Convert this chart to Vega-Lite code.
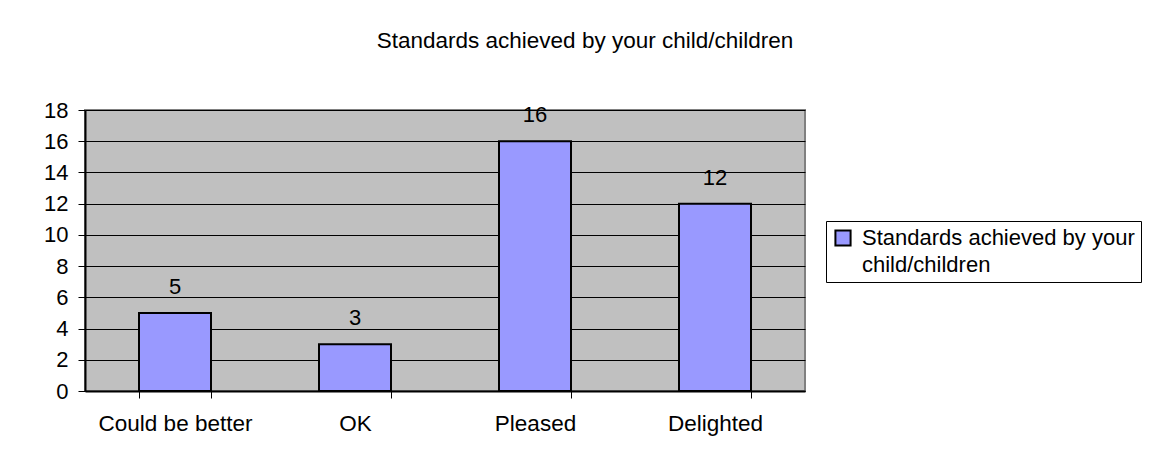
{
  "$schema": "https://vega.github.io/schema/vega-lite/v6.json",
  "width": 720,
  "height": 281,
  "autosize": "none",
  "padding": {"left": 85, "top": 110, "right": 350, "bottom": 81},
  "background": "white",
  "title": {
    "text": "Standards achieved by your child/children",
    "anchor": "middle",
    "frame": "group",
    "dx": 140,
    "offset": 47,
    "font": "Liberation Sans",
    "fontSize": 22.5,
    "fontWeight": "normal",
    "color": "black"
  },
  "data": {
    "values": [
      {"category": "Could be better", "value": 5, "series": "Standards achieved by your child/children"},
      {"category": "OK", "value": 3, "series": "Standards achieved by your child/children"},
      {"category": "Pleased", "value": 16, "series": "Standards achieved by your child/children"},
      {"category": "Delighted", "value": 12, "series": "Standards achieved by your child/children"}
    ]
  },
  "encoding": {
    "x": {
      "field": "category",
      "type": "nominal",
      "sort": null,
      "scale": {"paddingInner": 0.6, "paddingOuter": 0.3},
      "axis": {
        "title": null,
        "labelAngle": 0,
        "tickBand": "extent",
        "domainColor": "black",
        "domainWidth": 2,
        "tickColor": "black",
        "tickSize": 7,
        "labelFontSize": 22.5,
        "labelFont": "Liberation Sans",
        "labelColor": "black",
        "labelPadding": 14
      }
    },
    "y": {
      "field": "value",
      "type": "quantitative",
      "scale": {"domain": [0, 18], "nice": false},
      "axis": {
        "title": null,
        "values": [0, 2, 4, 6, 8, 10, 12, 14, 16, 18],
        "grid": true,
        "gridColor": "black",
        "gridWidth": 1,
        "domainColor": "black",
        "domainWidth": 2,
        "tickColor": "black",
        "tickSize": 7,
        "labelFontSize": 22,
        "labelFont": "Liberation Sans",
        "labelColor": "black",
        "labelPadding": 10
      }
    }
  },
  "layer": [
    {
      "mark": {"type": "bar", "stroke": "black", "strokeWidth": 2},
      "encoding": {
        "color": {
          "field": "series",
          "type": "nominal",
          "scale": {"range": ["#9999FF"]},
          "legend": {
            "title": null,
            "orient": "none",
            "legendX": 741,
            "legendY": 111,
            "strokeColor": "black",
            "fillColor": "white",
            "padding": 6,
            "symbolType": "square",
            "symbolSize": 230,
            "symbolStrokeColor": "black",
            "symbolStrokeWidth": 2,
            "symbolOpacity": 1,
            "labelFontSize": 22,
            "labelFont": "Liberation Sans",
            "labelColor": "black",
            "labelOffset": 8,
            "labelLimit": 400,
            "labelExpr": "['Standards achieved by your', 'child/children']",
            "encode": {
              "labels": {"update": {"lineHeight": {"value": 27}}}
            }
          }
        }
      }
    },
    {
      "mark": {"type": "text", "baseline": "bottom", "dy": -14, "fontSize": 22, "font": "Liberation Sans", "color": "black"},
      "encoding": {"text": {"field": "value", "type": "quantitative"}}
    }
  ],
  "config": {
    "view": {"fill": "#C0C0C0", "stroke": "#808080", "strokeWidth": 2}
  }
}
